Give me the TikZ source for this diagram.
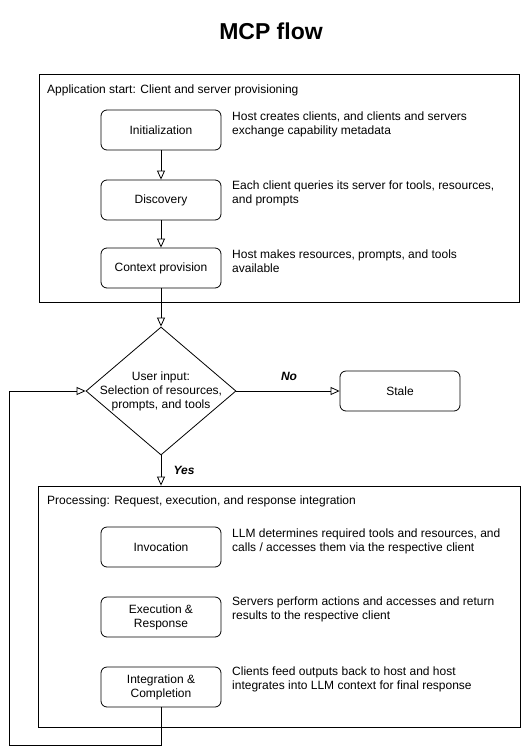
\documentclass[tikz,border=0pt]{standalone}
\usepackage{fontspec}
\setmainfont{Liberation Sans}
\usetikzlibrary{arrows.meta,shapes.geometric}
\tikzset{
  stepbox/.style={draw, rounded corners=6pt, minimum width=120pt, minimum height=40pt, inner sep=0pt, align=center, font=\fontsize{12pt}{14pt}\selectfont, line width=0.8pt},
  container/.style={draw, line width=0.8pt, inner sep=0pt},
  desc/.style={anchor=north west, inner sep=0pt, align=left, font=\fontsize{12pt}{14pt}\selectfont},
  lbl/.style={anchor=west, inner sep=0pt, font=\fontsize{12pt}{14pt}\selectfont},
  conn/.style={line width=0.8pt, -{Triangle[open,width=8pt,length=9pt]}},
  plain/.style={line width=0.8pt},
  yn/.style={inner sep=0pt, font=\fontsize{12pt}{14pt}\selectfont\bfseries\itshape}
}
\begin{document}
\begin{tikzpicture}[x=1pt,y=-1pt]
\useasboundingbox (0,0) rectangle (522,756);
\node[font=\fontsize{23pt}{26pt}\selectfont\bfseries] (title) at (271,31) {MCP flow};
% top container
\node[container, minimum width=480pt, minimum height=228pt] (top) at (279,188) {};
\node[lbl] (toplbl) at (47,90) {Application start: Client and server provisioning};
\node[stepbox] (init) at (161,130) {Initialization};
\node[stepbox] (disc) at (161,200) {Discovery};
\node[stepbox] (ctx) at (161,268) {Context provision};
\node[desc] (d1) at (232,112) {Host creates clients, and clients and servers\\exchange capability metadata};
\node[desc] (d2) at (232,181) {Each client queries its server for tools, resources,\\and prompts};
\node[desc] (d3) at (232,250) {Host makes resources, prompts, and tools\\available};
% decision
\node[draw, diamond, minimum width=150pt, minimum height=128pt, inner sep=0pt, line width=0.8pt] (dec) at (161,391) {};
\node[align=center, inner sep=0pt, font=\fontsize{12pt}{14pt}\selectfont] (dectext) at (161,391) {User input:\\Selection of resources,\\prompts, and tools};
\node[stepbox] (stale) at (400,391) {Stale};
\node[yn] (no) at (289,376) {No};
\node[yn] (yes) at (184,470) {Yes};
% bottom container
\node[container, minimum width=482pt, minimum height=241pt] (bot) at (279,606.5) {};
\node[lbl] (botlbl) at (47,501) {Processing: Request, execution, and response integration};
\node[stepbox] (inv) at (161,547) {Invocation};
\node[stepbox] (exe) at (161,617) {Execution \&\\Response};
\node[stepbox] (integ) at (161,687) {Integration \&\\Completion};
\node[desc] (d4) at (232,529) {LLM determines required tools and resources, and\\calls / accesses them via the respective client};
\node[desc] (d5) at (232,597) {Servers perform actions and accesses and return\\results to the respective client};
\node[desc] (d6) at (232,667) {Clients feed outputs back to host and host\\integrates into LLM context for final response};
% connectors
\draw[conn] (init) -- (disc);
\draw[conn] (disc) -- (ctx);
\draw[conn] (ctx) -- (dec.north);
\draw[conn] (dec.east) -- (stale.west);
\draw[conn] (dec.south) -- (dec.south |- bot.north);
\coordinate (lb) at (161,745);
\coordinate (ll) at (9,745);
\draw[conn] (integ.south) -- (lb) -- (ll) |- (dec.west);
\end{tikzpicture}
\end{document}
